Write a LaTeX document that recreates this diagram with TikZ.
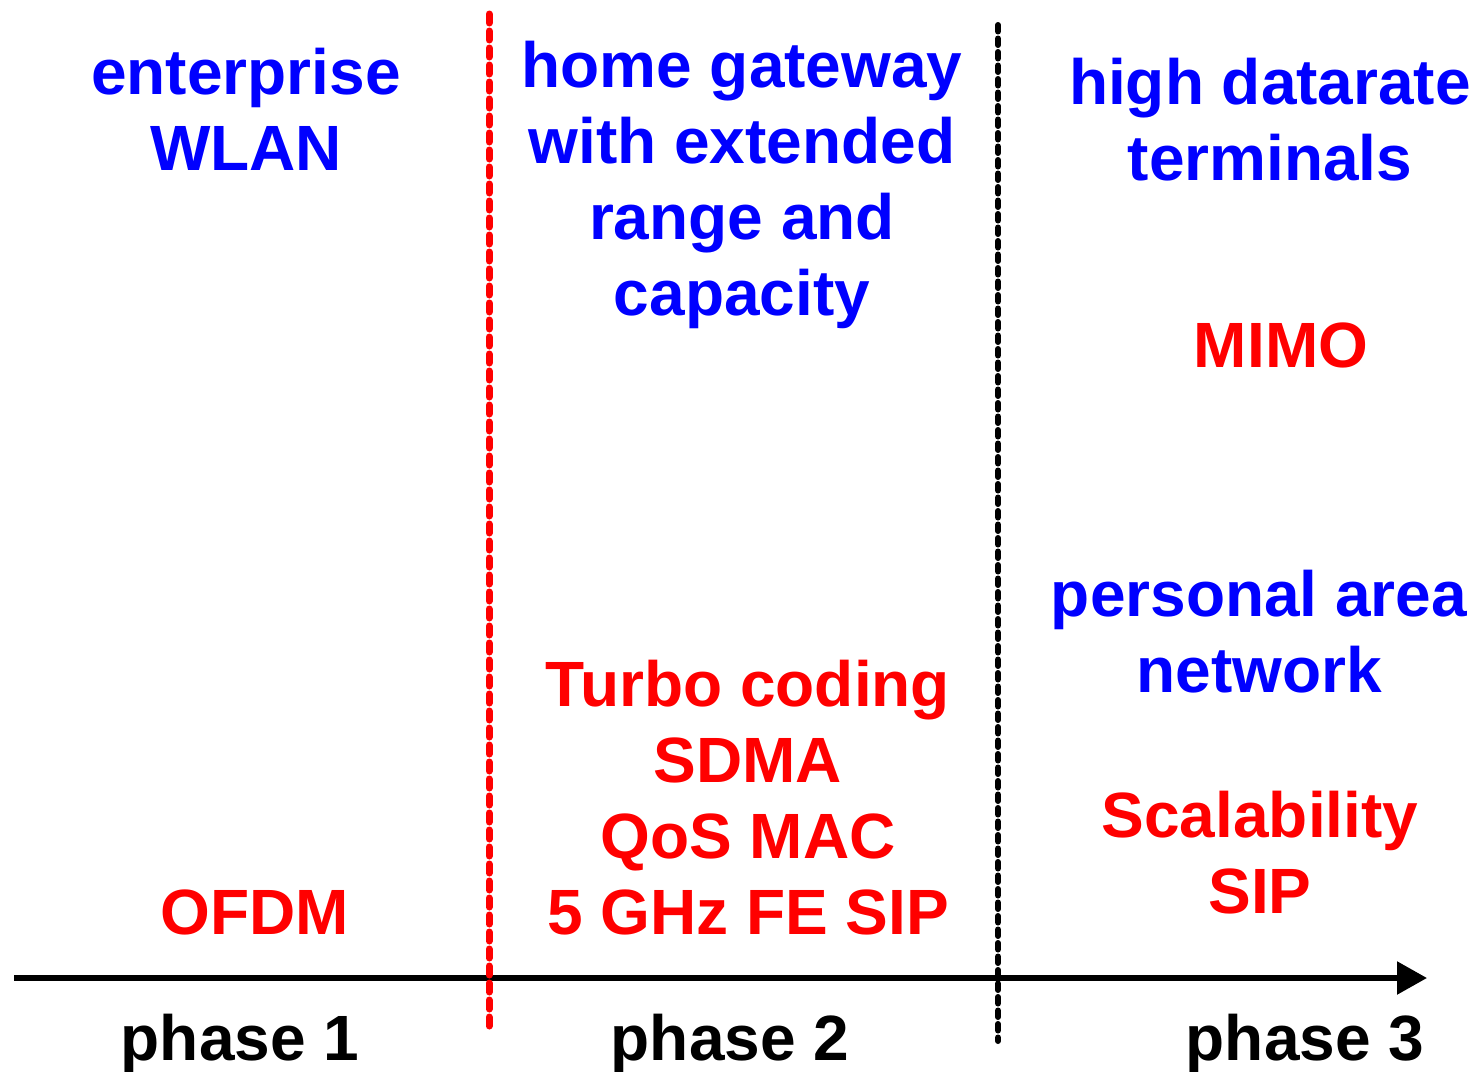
\documentclass[tikz,border=0pt]{standalone}
\usepackage{fontspec}
\setmainfont{Liberation Sans}
\usetikzlibrary{arrows.meta}
\definecolor{lblue}{RGB}{0,0,255}
\definecolor{lred}{RGB}{255,0,0}
\tikzset{
  label/.style={anchor=base, align=center, inner sep=0pt,
    font=\bfseries\fontsize{64}{76}\selectfont},
  need/.style={label, text=lblue},
  tech/.style={label, text=lred},
  phaselabel/.style={label, text=black},
  timeline/.style={line width=5.5pt, -{Triangle[length=30pt,width=32pt]}},
  redsep/.style={draw=lred, line width=7pt, line cap=round, dash pattern=on 9pt off 8pt},
  blacksep/.style={draw=black, line width=6pt, line cap=round, dash pattern=on 6.5pt off 7pt},
}
\begin{document}
\begin{tikzpicture}[x=1pt,y=-1pt]
  \useasboundingbox (0,0) rectangle (1477,1071);

  % time axis
  \coordinate (axisstart) at (14,978);
  \coordinate (axisend) at (1427,978);
  \draw[timeline] (axisstart) -- (axisend);

  % phase separators
  \coordinate (sepAtop) at (489,14);
  \coordinate (sepAbot) at (489,1028);
  \coordinate (sepBtop) at (998,25);
  \coordinate (sepBbot) at (998,1041);
  \draw[redsep] (sepAtop) -- (sepAbot);
  \draw[blacksep] (sepBtop) -- (sepBbot);

  % multi-line labels are placed by the baseline of their last line
  % phase 1
  \node[need] (enterprise) at (246,170) {enterprise\\WLAN};
  \node[tech] (ofdm) at (255,934) {OFDM};
  \node[phaselabel] (phase1) at (240,1060) {phase 1};

  % phase 2
  \node[need] (homegw) at (742,315) {home gateway\\with extended\\range and\\capacity};
  \node[tech] (turbo) at (748,934) {Turbo coding\\SDMA\\QoS MAC\\5 GHz FE SIP};
  \node[phaselabel] (phase2) at (730,1060) {phase 2};

  % phase 3
  \node[need] (highrate) at (1270,180) {high datarate\\terminals};
  \node[tech] (mimo) at (1281,367) {MIMO};
  \node[need] (pan) at (1259,692) {personal area\\network};
  \node[tech] (scal) at (1260,913) {Scalability\\SIP};
  \node[phaselabel] (phase3) at (1305,1060) {phase 3};
\end{tikzpicture}
\end{document}
